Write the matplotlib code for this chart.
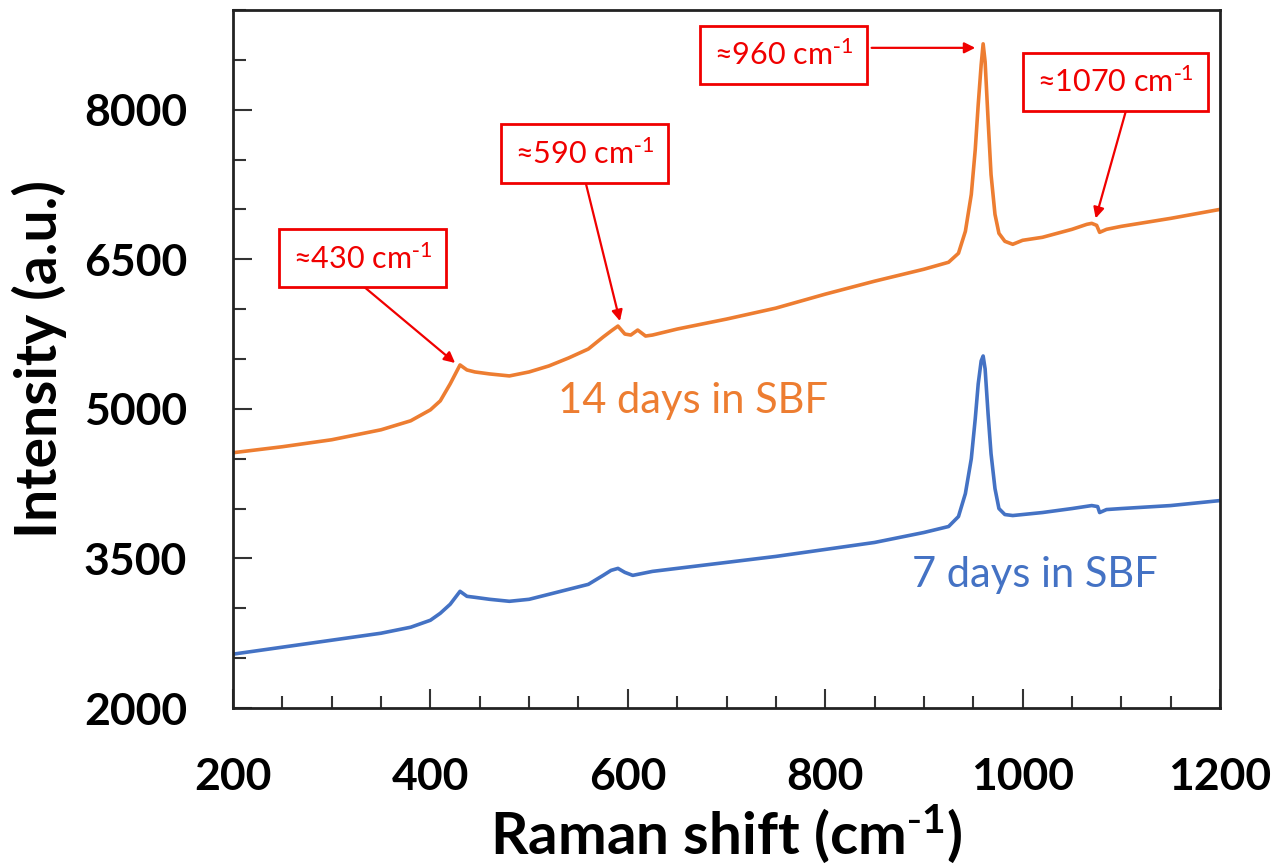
import matplotlib.pyplot as plt
from matplotlib.ticker import MultipleLocator

plt.rcParams['font.family'] = ['Lato', 'DejaVu Sans']
plt.rcParams['mathtext.default'] = 'regular'

# Raman shift (cm-1) and intensity
shift_14 = [200, 250, 300, 350, 380, 400, 410, 420, 430, 437, 445, 460, 480, 500,
            520, 540, 560, 575, 583, 590, 597, 603, 610, 618, 625, 650, 700, 750,
            800, 850, 900, 925, 935, 942, 948, 952, 955, 958, 960, 962, 965, 968,
            972, 976, 982, 990, 1000, 1020, 1050, 1065, 1070, 1075, 1078, 1085,
            1100, 1150, 1200]
inten_14 = [4560, 4620, 4690, 4790, 4880, 4990, 5080, 5250, 5440, 5390, 5370, 5350,
            5330, 5370, 5430, 5510, 5600, 5720, 5780, 5830, 5750, 5740, 5790, 5730,
            5740, 5800, 5900, 6010, 6150, 6280, 6400, 6470, 6560, 6780, 7150, 7600,
            8050, 8450, 8660, 8480, 7900, 7350, 6950, 6760, 6680, 6650, 6690, 6720,
            6800, 6850, 6860, 6840, 6770, 6800, 6830, 6910, 7000]

shift_7 = [200, 250, 300, 350, 380, 400, 410, 420, 430, 437, 445, 460, 480, 500,
           520, 540, 560, 575, 583, 590, 597, 605, 615, 625, 650, 700, 750, 800,
           850, 900, 925, 935, 942, 948, 952, 955, 958, 960, 962, 965, 968, 972,
           976, 982, 990, 1020, 1050, 1070, 1076, 1078, 1085, 1100, 1150, 1200]
inten_7 = [2540, 2610, 2680, 2750, 2810, 2880, 2950, 3040, 3170, 3120, 3110, 3090,
           3070, 3090, 3140, 3190, 3240, 3330, 3380, 3400, 3360, 3330, 3350, 3370,
           3400, 3460, 3520, 3590, 3660, 3760, 3820, 3920, 4150, 4500, 4900, 5250,
           5480, 5530, 5400, 4950, 4550, 4200, 4000, 3940, 3930, 3960, 4000, 4030,
           4020, 3960, 3990, 4000, 4030, 4080]

y_ticks = [2000, 3500, 5000, 6500, 8000]

sup = r'cm$^{\text{-}1}$'
# (label, text centre, arrow start, arrow tip)
notes = [
    ('≈430 ' + sup, (331, 6510), (332, 6230), (425, 5460)),
    ('≈590 ' + sup, (556, 7560), (557, 7280), (592, 5880)),
    ('≈960 ' + sup, (758, 8550), (847, 8620), (952, 8620)),
    ('≈1070 ' + sup, (1094, 8280), (1105, 8000), (1074, 6910)),
]

orange = '#ED7D31'
blue = '#4472C4'
red = '#F00000'

fig = plt.figure(figsize=(12.81, 8.65), dpi=100)
ax = fig.add_axes([0.1819, 0.1815, 0.7705, 0.807])

ax.plot(shift_14, inten_14, color=orange, lw=2.6)
ax.plot(shift_7, inten_7, color=blue, lw=2.6)

ax.set_xlim(200, 1200)
ax.set_ylim(2000, 9000)
ax.xaxis.set_major_locator(MultipleLocator(200))
ax.xaxis.set_minor_locator(MultipleLocator(50))
ax.set_yticks(y_ticks)
ax.yaxis.set_minor_locator(MultipleLocator(500))
ax.tick_params(which='both', direction='in', width=1.5, color='#333333')
ax.tick_params(which='major', length=14, labelsize=32)
ax.tick_params(which='minor', length=9)
ax.tick_params(axis='y', pad=33)
ax.tick_params(axis='x', pad=35)
for lab in ax.get_xticklabels() + ax.get_yticklabels():
    lab.set_fontweight('bold')
for sp in ax.spines.values():
    sp.set_linewidth(2)
    sp.set_color('#222222')

ax.set_xlabel('Raman shift (' + sup + ')', fontsize=42, fontweight='bold', labelpad=4)
ax.set_ylabel('Intensity (a.u.)', fontsize=41, fontweight='bold', labelpad=12)

ax.text(529, 5080, '14 days in SBF', color=orange, fontsize=30, va='center')
ax.text(888, 3330, '7 days in SBF', color=blue, fontsize=30, va='center')

for label, centre, start, tip in notes:
    ax.annotate('', xy=tip, xytext=start,
                arrowprops=dict(arrowstyle='-|>', color=red, lw=1.6,
                                mutation_scale=16, shrinkA=0, shrinkB=0))
    ax.text(centre[0], centre[1], label, color=red, fontsize=22,
            ha='center', va='center',
            bbox=dict(boxstyle='square,pad=0.45', fc='white', ec=red, lw=2))

fig.savefig('out.png', dpi=100)
